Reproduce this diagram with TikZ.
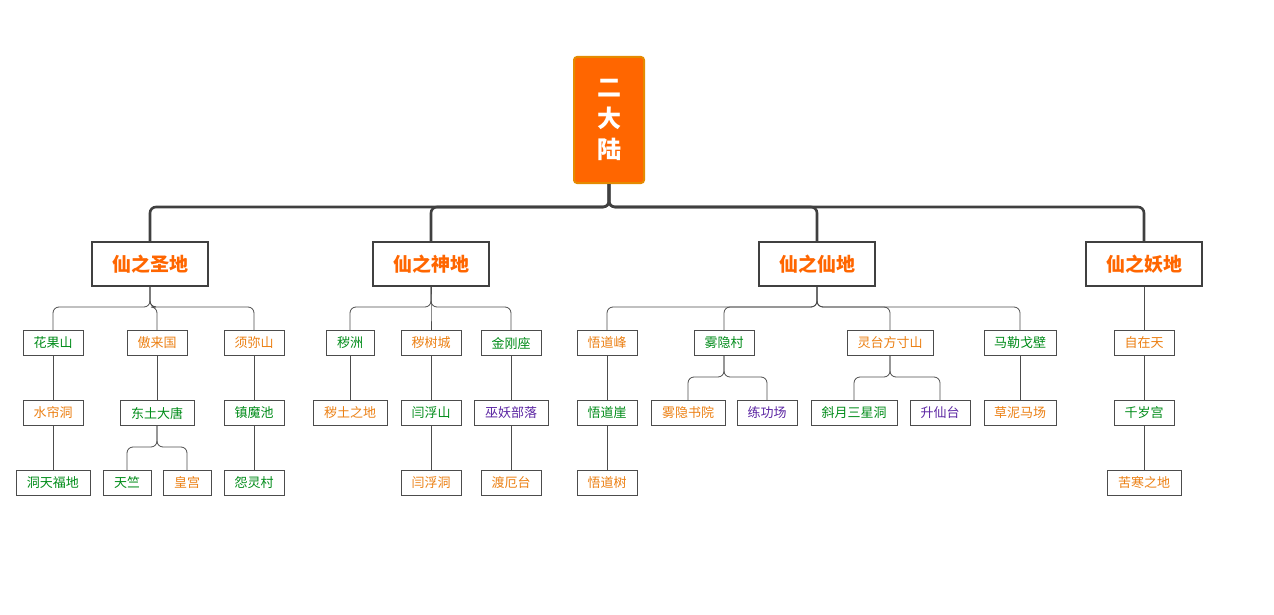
\documentclass[tikz,border=0pt]{standalone}
\usepackage{fontspec}
\setmainfont{Noto Sans CJK SC}
\begin{document}
\begin{tikzpicture}[x=1pt,y=-1pt,
 leaf/.style={draw=black!70,line width=0.8pt,fill=white,minimum height=25pt,inner sep=0pt,font=\fontsize{13}{15}\selectfont},
 G/.style={leaf,text=green!50!black!90!cyan},
 O/.style={leaf,text=orange!70!brown},
 P/.style={leaf,text=blue!40!violet!70!gray},
 lv/.style={draw=black!75,line width=1.6pt,fill=white,minimum width=116pt,minimum height=44pt,inner sep=0pt,text=orange!80!red,font=\bfseries\fontsize{19}{21}\selectfont},
 thin/.style={draw=black!70,line width=0.8pt,rounded corners=6pt},
 thick/.style={draw=black!75,line width=2.6pt,rounded corners=6pt}]
\useasboundingbox (0,0) rectangle (1274,615);
\node[draw=orange!80!yellow!90!black,line width=2pt,fill=orange!80!red,rounded corners=3pt,minimum width=70pt,minimum height=126pt,text=white,align=center,font=\bfseries\fontsize{24}{31}\selectfont] (root) at (609,120) {二\\大\\陆};
\foreach \n/\x/\t in {A/150/仙之圣地,B/431/仙之神地,C/817/仙之仙地,D/1144/仙之妖地}
  \node[lv] (\n) at (\x,264) {\t};
\coordinate (tb) at (0,207);
\coordinate (lb) at (0,307);
\coordinate (sb) at (0,447);
\coordinate (mb) at (0,377);
% row1
\node[G,minimum width=60pt] (a1) at (53,343) {花果山};
\node[O,minimum width=60pt] (a2) at (157,343) {傲来国};
\node[O,minimum width=60pt] (a3) at (254,343) {须弥山};
\node[G,minimum width=48pt] (b1) at (350,343) {秽洲};
\node[O,minimum width=60pt] (b2) at (431,343) {秽树城};
\node[G,minimum width=60pt] (b3) at (511,343) {金刚座};
\node[O,minimum width=60pt] (c1) at (607,343) {悟道峰};
\node[G,minimum width=60pt] (c2) at (724,343) {雾隐村};
\node[O,minimum width=86pt] (c3) at (890,343) {灵台方寸山};
\node[G,minimum width=72pt] (c4) at (1020,343) {马勒戈壁};
\node[O,minimum width=60pt] (d1) at (1144,343) {自在天};
% row2
\node[O,minimum width=60pt] (a1b) at (53,413) {水帘洞};
\node[G,minimum width=74pt] (a2b) at (157,413) {东土大唐};
\node[G,minimum width=60pt] (a3b) at (254,413) {镇魔池};
\node[O,minimum width=74pt] (b1b) at (350,413) {秽土之地};
\node[G,minimum width=60pt] (b2b) at (431,413) {闫浮山};
\node[P,minimum width=74pt] (b3b) at (511,413) {巫妖部落};
\node[G,minimum width=60pt] (c1b) at (607,413) {悟道崖};
\node[O,minimum width=74pt] (c2x) at (688,413) {雾隐书院};
\node[P,minimum width=60pt] (c2y) at (767,413) {练功场};
\node[G,minimum width=86pt] (c3x) at (854,413) {斜月三星洞};
\node[P,minimum width=60pt] (c3y) at (940,413) {升仙台};
\node[O,minimum width=72pt] (c4b) at (1020,413) {草泥马场};
\node[G,minimum width=60pt] (d1b) at (1144,413) {千岁宫};
% row3
\node[G,minimum width=74pt] (a1c) at (53,483) {洞天福地};
\node[G,minimum width=48pt] (a2x) at (127,483) {天竺};
\node[O,minimum width=48pt] (a2y) at (187,483) {皇宫};
\node[G,minimum width=60pt] (a3c) at (254,483) {怨灵村};
\node[O,minimum width=60pt] (b2c) at (431,483) {闫浮洞};
\node[O,minimum width=60pt] (b3c) at (511,483) {渡厄台};
\node[O,minimum width=60pt] (c1c) at (607,483) {悟道树};
\node[O,minimum width=74pt] (d1c) at (1144,483) {苦寒之地};
% connectors
\foreach \c in {A,B,C,D} \draw[thick] (root.south) -- (root.south |- tb) -| (\c.north);
\foreach \p/\c in {A/a1,A/a2,A/a3,B/b1,B/b2,B/b3,C/c1,C/c2,C/c3,C/c4,D/d1}
  \draw[thin] (\p.south) -- (\p.south |- lb) -| (\c.north);
\foreach \p/\c in {a1/a1b,a1b/a1c,a2/a2b,a3/a3b,a3b/a3c,b1/b1b,b2/b2b,b2b/b2c,b3/b3b,b3b/b3c,c1/c1b,c1b/c1c,c4/c4b,d1/d1b,d1b/d1c}
  \draw[thin] (\p.south) -- (\c.north);
\foreach \c in {a2x,a2y} \draw[thin] (a2b.south) -- (a2b.south |- sb) -| (\c.north);
\foreach \c in {c2x,c2y} \draw[thin] (c2.south) -- (c2.south |- mb) -| (\c.north);
\foreach \c in {c3x,c3y} \draw[thin] (c3.south) -- (c3.south |- mb) -| (\c.north);
\end{tikzpicture}
\end{document}
